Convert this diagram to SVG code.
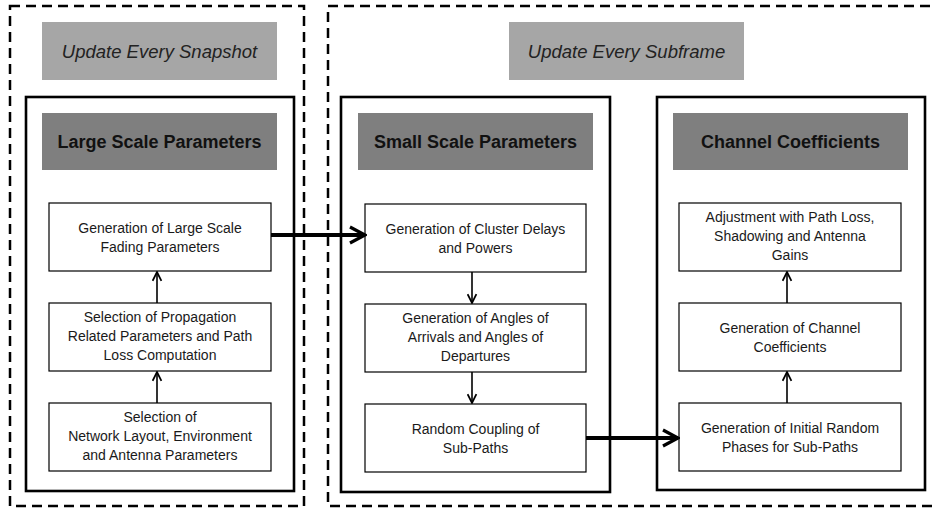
<svg xmlns="http://www.w3.org/2000/svg" width="936" height="508" viewBox="0 0 936 508">
  <style>
    .dash { fill: none; stroke: #000; stroke-width: 2.5; stroke-dasharray: 10 6; }
    .panel { fill: #fff; stroke: #000; stroke-width: 2.6; }
    .update { fill: #a6a6a6; }
    .head { fill: #7f7f7f; }
    .step { fill: #fff; stroke: #000; stroke-width: 1.2; }
    .t { font-family: "Liberation Sans", Arial, sans-serif; font-size: 14px; fill: #1a1a1a; text-anchor: middle; }
    .h { font-family: "Liberation Sans", Arial, sans-serif; font-size: 18px; font-weight: bold; fill: #111; text-anchor: middle; }
    .u { font-family: "Liberation Sans", Arial, sans-serif; font-size: 18.5px; font-style: italic; fill: #222; text-anchor: middle; }
    .thin { fill: none; stroke: #000; stroke-width: 1.6; }
    .thick { fill: none; stroke: #000; stroke-width: 4; }
  </style>
  <defs>
    <marker id="open" viewBox="0 0 10 10" refX="9" refY="5" markerWidth="11" markerHeight="11" markerUnits="userSpaceOnUse" orient="auto">
      <path d="M1,1 L9,5 L1,9" fill="none" stroke="#000" stroke-width="1.6"/>
    </marker>
    <marker id="openBig" viewBox="0 0 10 10" refX="9" refY="5" markerWidth="5" markerHeight="5" orient="auto">
      <path d="M1.5,1 L9,5 L1.5,9" fill="none" stroke="#000" stroke-width="1.6"/>
    </marker>
  </defs>

  <rect width="936" height="508" fill="#fff"/>

  <!-- update-rate groupings -->
  <g id="snapshot-zone">
    <rect class="dash" x="10" y="6" width="294" height="500"/>
    <rect class="update" x="42" y="22" width="235" height="58"/>
    <text class="u" x="159.5" y="57.5">Update Every Snapshot</text>
  </g>
  <g id="subframe-zone">
    <rect class="dash" x="328" y="6" width="620" height="500"/>
    <rect class="update" x="509" y="22" width="235" height="58"/>
    <text class="u" x="626.5" y="57.5">Update Every Subframe</text>
  </g>

  <!-- large scale parameters -->
  <g id="large-scale">
    <rect class="panel" x="26" y="97" width="268" height="394"/>
    <rect class="head" x="42" y="113" width="235" height="57"/>
    <text class="h" x="159.5" y="148">Large Scale Parameters</text>
  </g>
  <g id="ls-fading">
    <rect class="step" x="49" y="203" width="222" height="68"/>
    <text class="t" x="160" y="233">Generation of Large Scale</text>
    <text class="t" x="160" y="252">Fading Parameters</text>
  </g>
  <g id="ls-propagation">
    <rect class="step" x="49" y="303" width="222" height="68"/>
    <text class="t" x="160" y="322">Selection of Propagation</text>
    <text class="t" x="160" y="341">Related Parameters  and Path</text>
    <text class="t" x="160" y="360">Loss Computation</text>
  </g>
  <g id="ls-layout">
    <rect class="step" x="49" y="403" width="222" height="68"/>
    <text class="t" x="160" y="422">Selection of</text>
    <text class="t" x="160" y="441">Network Layout, Environment</text>
    <text class="t" x="160" y="460">and Antenna Parameters</text>
  </g>

  <!-- small scale parameters -->
  <g id="small-scale">
    <rect class="panel" x="341" y="97" width="269" height="395"/>
    <rect class="head" x="358" y="113" width="235" height="57"/>
    <text class="h" x="475.5" y="148">Small Scale Parameters</text>
  </g>
  <g id="ss-delays">
    <rect class="step" x="365" y="204" width="221" height="68"/>
    <text class="t" x="475.5" y="234">Generation of Cluster Delays</text>
    <text class="t" x="475.5" y="253">and Powers</text>
  </g>
  <g id="ss-angles">
    <rect class="step" x="365" y="304" width="221" height="68"/>
    <text class="t" x="475.5" y="323">Generation of Angles of</text>
    <text class="t" x="475.5" y="342">Arrivals and Angles of</text>
    <text class="t" x="475.5" y="361">Departures</text>
  </g>
  <g id="ss-coupling">
    <rect class="step" x="365" y="404" width="221" height="68"/>
    <text class="t" x="475.5" y="434">Random Coupling of</text>
    <text class="t" x="475.5" y="453">Sub-Paths</text>
  </g>

  <!-- channel coefficients -->
  <g id="channel">
    <rect class="panel" x="657" y="97" width="268" height="393"/>
    <rect class="head" x="673" y="113" width="235" height="57"/>
    <text class="h" x="790.5" y="148">Channel Coefficients</text>
  </g>
  <g id="cc-adjust">
    <rect class="step" x="679" y="203" width="222" height="68"/>
    <text class="t" x="790" y="222">Adjustment with Path Loss,</text>
    <text class="t" x="790" y="241">Shadowing and Antenna</text>
    <text class="t" x="790" y="260">Gains</text>
  </g>
  <g id="cc-coefficients">
    <rect class="step" x="679" y="303" width="222" height="68"/>
    <text class="t" x="790" y="333">Generation of Channel</text>
    <text class="t" x="790" y="352">Coefficients</text>
  </g>
  <g id="cc-phases">
    <rect class="step" x="679" y="403" width="222" height="68"/>
    <text class="t" x="790" y="433">Generation of Initial Random</text>
    <text class="t" x="790" y="452">Phases for Sub-Paths</text>
  </g>

  <!-- connectors -->
  <g id="connectors">
    <line class="thin" x1="157" y1="403" x2="157" y2="372" marker-end="url(#open)"/>
    <line class="thin" x1="157" y1="303" x2="157" y2="272" marker-end="url(#open)"/>
    <line class="thin" x1="472" y1="272" x2="472" y2="303" marker-end="url(#open)"/>
    <line class="thin" x1="472" y1="372" x2="472" y2="403" marker-end="url(#open)"/>
    <line class="thin" x1="787" y1="403" x2="787" y2="372" marker-end="url(#open)"/>
    <line class="thin" x1="787" y1="303" x2="787" y2="272" marker-end="url(#open)"/>
    <line class="thick" x1="271" y1="235" x2="365" y2="235" marker-end="url(#openBig)"/>
    <line class="thick" x1="586" y1="438" x2="678" y2="438" marker-end="url(#openBig)"/>
  </g>
</svg>
